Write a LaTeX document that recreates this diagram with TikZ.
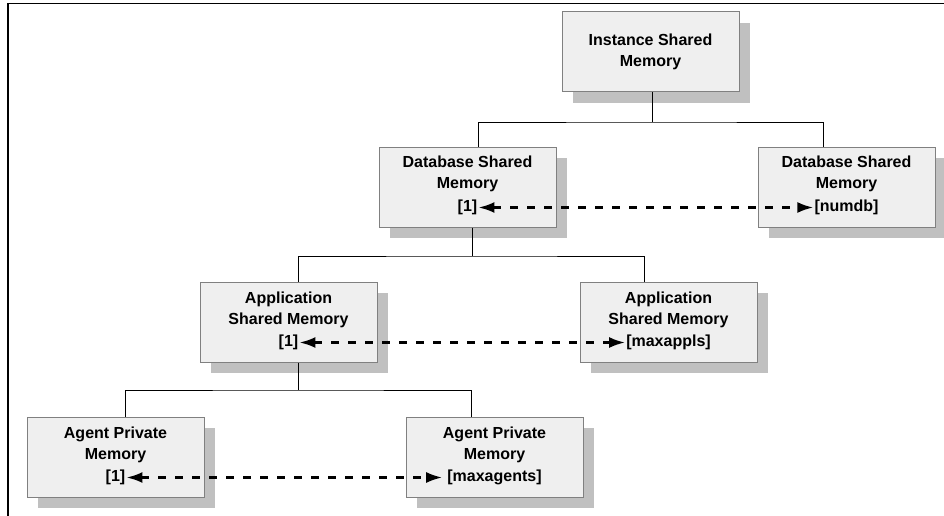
\documentclass[tikz,border=0pt]{standalone}
\usepackage{fontspec}
\setmainfont{Liberation Sans}
\usetikzlibrary{arrows.meta,shadows}
\definecolor{boxfill}{HTML}{EFEFEF}
\definecolor{boxline}{HTML}{808080}
\definecolor{shadowfill}{HTML}{C0C0C0}
\tikzset{
  membox/.style={draw=boxline,line width=1pt,fill=boxfill,minimum width=177pt,minimum height=80pt,inner sep=0pt,
    general shadow={fill=shadowfill,draw=none,shadow xshift=11pt,shadow yshift=-11pt}},
  title/.style={font=\bfseries\fontsize{16}{21}\selectfont,align=center,inner sep=0pt},
  idx/.style={font=\bfseries\fontsize{16}{21}\selectfont,inner sep=1pt},
  tree/.style={line width=0.9pt},
  dashlink/.style={line width=2.4pt,dash pattern=on 8pt off 9pt,{Latex[length=16pt,width=11pt]}-{Latex[length=16pt,width=11pt]}}
}
\begin{document}
\begin{tikzpicture}[x=1pt,y=1pt]
	\useasboundingbox (0,0) rectangle (944,-516);
	\draw[line width=1.5pt] (944,-3.5) -- (8,-3.5) -- (8,-516);
	% boxes
	\node[membox] (inst) at (650.5,-52) {};
	\node[membox] (dbl) at (467.5,-187) {};
	\node[membox] (dbr) at (846.5,-187) {};
	\node[membox] (appl) at (288.5,-322) {};
	\node[membox] (appr) at (668.5,-322) {};
	\node[membox] (agl) at (115.5,-457) {};
	\node[membox] (agr) at (494.5,-457) {};
	% texts
	\node[title] at (inst) {Instance Shared\\Memory};
	\node[title] at ([yshift=-27pt]dbl.north) {Database Shared\\Memory};
	\node[title] at ([yshift=-27pt]dbr.north) {Database Shared\\Memory};
	\node[title] at ([yshift=-28pt]appl.north) {Application\\Shared Memory};
	\node[title] at ([yshift=-28pt]appr.north) {Application\\Shared Memory};
	\node[title] at ([yshift=-28pt]agl.north) {Agent Private\\Memory};
	\node[title] at ([yshift=-28pt]agr.north) {Agent Private\\Memory};
	\node[idx] (dblidx) at ([yshift=20pt]dbl.south) {[1]};
	\node[idx] (dbridx) at ([yshift=20pt]dbr.south) {[numdb]};
	\node[idx] (applidx) at ([yshift=20pt]appl.south) {[1]};
	\node[idx] (appridx) at ([yshift=20pt]appr.south) {[maxappls]};
	\node[idx] (aglidx) at ([yshift=20pt]agl.south) {[1]};
	\node[idx] (agridx) at ([yshift=20pt]agr.south) {[maxagents]};
	% tree
	\coordinate (bus1) at (652,-122);
	\coordinate (bus2) at (472,-256);
	\coordinate (bus3) at (298,-390);
	\draw[tree] ([xshift=1.5pt]inst.south) -- (bus1);
	\draw[tree] ([xshift=10.5pt]dbl.north) |- (bus1) -| ([xshift=-23.5pt]dbr.north);
	\draw[tree] ([xshift=4.5pt]dbl.south) -- (bus2);
	\draw[tree] ([xshift=9.5pt]appl.north) |- (bus2) -| ([xshift=-24.5pt]appr.north);
	\draw[tree] ([xshift=9.5pt]appl.south) -- (bus3);
	\draw[tree] ([xshift=9.5pt]agl.north) |- (bus3) -| ([xshift=-23.5pt]agr.north);
	% ranges
	\draw[dashlink] (dblidx.east) -- (dbridx.west);
	\draw[dashlink] (applidx.east) -- (appridx.west);
	\draw[dashlink] (aglidx.east) -- ([xshift=-4pt]agridx.west);
\end{tikzpicture}
\end{document}
